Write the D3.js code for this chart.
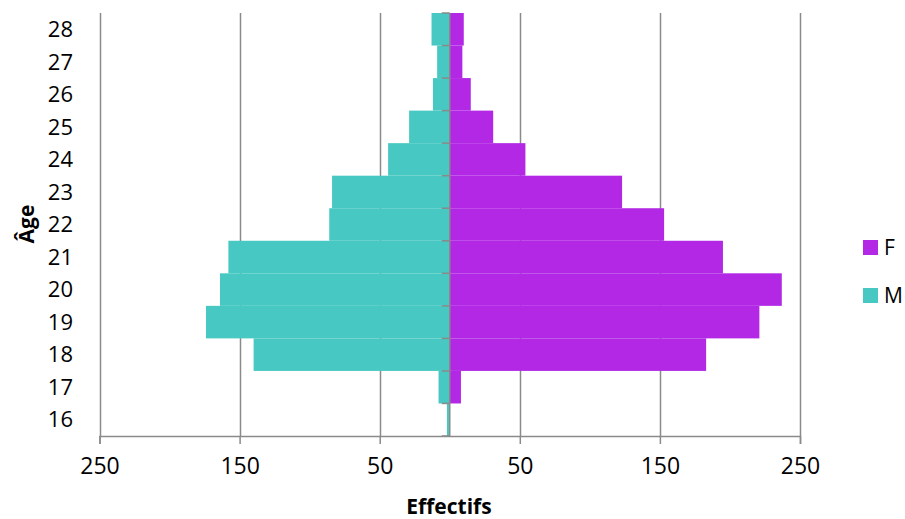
<!DOCTYPE html>
<html>
<head>
<meta charset="utf-8">
<script src="https://cdn.jsdelivr.net/npm/d3@7"></script>
<style>
  html, body { margin: 0; padding: 0; background: #fff; }
  svg { display: block; font-family: "Open Sans", sans-serif; }
</style>
</head>
<body>
<svg id="chart" width="905" height="519"></svg>
<script>
// ---- data ----
const ages = [16, 17, 18, 19, 20, 21, 22, 23, 24, 25, 26, 27, 28];
const femmes = [0, 8, 183, 221, 237, 195, 153, 123, 54, 31, 15, 9, 10];
const hommes = [2, 8, 140, 174, 164, 158, 86, 84, 44, 29, 12, 9, 13];
const xTickValues = [-250, -150, -50, 50, 150, 250];
const seriesNames = ["F", "M"];
const seriesColors = ["#B228E5", "#48C8C2"];

// ---- layout ----
const svg = d3.select("#chart");
const plot = { left: 99.5, right: 800, top: 13, bottom: 436 };
const axisColor = "#8a8a8a";

const x = d3.scaleLinear().domain([-250, 250]).range([plot.left, plot.right]);
const y = d3.scaleBand()
  .domain(ages.slice().reverse())
  .range([plot.top, plot.bottom])
  .padding(0);

// gridlines
svg.append("g")
  .selectAll("line")
  .data(xTickValues)
  .join("line")
  .attr("x1", d => Math.round(x(d)) + 0.5)
  .attr("x2", d => Math.round(x(d)) + 0.5)
  .attr("y1", plot.top)
  .attr("y2", plot.bottom)
  .attr("stroke", axisColor)
  .attr("stroke-width", 1.5);

// bars
const rows = ages.map((a, i) => ({ age: a, F: femmes[i], M: hommes[i] }));
const barG = svg.append("g");
barG.selectAll("rect.m")
  .data(rows)
  .join("rect")
  .attr("class", "m")
  .attr("x", d => x(-d.M))
  .attr("width", d => x(0) - x(-d.M))
  .attr("y", d => y(d.age))
  .attr("height", y.bandwidth())
  .attr("fill", seriesColors[1]);
barG.selectAll("rect.f")
  .data(rows)
  .join("rect")
  .attr("class", "f")
  .attr("x", x(0))
  .attr("width", d => x(d.F) - x(0))
  .attr("y", d => y(d.age))
  .attr("height", y.bandwidth())
  .attr("fill", seriesColors[0]);

// x axis
const xAxis = d3.axisBottom(x)
  .tickValues(xTickValues)
  .tickFormat(d => Math.abs(d))
  .tickSize(8)
  .tickPadding(14);
const xg = svg.append("g")
  .attr("transform", `translate(0,${plot.bottom})`)
  .call(xAxis);
xg.select(".domain").attr("stroke", axisColor).attr("stroke-width", 1.5);
xg.selectAll(".tick line").attr("stroke", axisColor).attr("stroke-width", 1.5);
xg.selectAll(".tick text")
  .attr("fill", "#000")
  .style("font-family", "'Open Sans', sans-serif")
  .style("font-size", "23px");

// central y axis (line + ticks at band boundaries)
const cx = x(0);
svg.append("line")
  .attr("x1", cx).attr("x2", cx)
  .attr("y1", plot.top).attr("y2", plot.bottom)
  .attr("stroke", axisColor).attr("stroke-width", 1.5);
const bounds = ages.map(a => y(a)).concat([plot.bottom]);
svg.append("g")
  .selectAll("line")
  .data(bounds)
  .join("line")
  .attr("x1", cx - 8).attr("x2", cx)
  .attr("y1", d => d).attr("y2", d => d)
  .attr("stroke", axisColor).attr("stroke-width", 1.5);

// y labels on the left
svg.append("g")
  .selectAll("text")
  .data(ages)
  .join("text")
  .attr("x", 73)
  .attr("y", d => y(d) + y.bandwidth() / 2)
  .attr("dy", "0.35em")
  .attr("text-anchor", "end")
  .style("font-size", "22px")
  .attr("fill", "#000")
  .text(d => d);

// axis titles
svg.append("text")
  .attr("x", 449)
  .attr("y", 514)
  .attr("text-anchor", "middle")
  .style("font-size", "21px")
  .style("font-weight", "bold")
  .text("Effectifs");
svg.append("text")
  .attr("transform", "translate(34,224) rotate(-90)")
  .attr("text-anchor", "middle")
  .style("font-size", "21px")
  .style("font-weight", "bold")
  .text("Âge");

// legend
const legend = svg.append("g");
const legY = [240, 288];
seriesNames.forEach((n, i) => {
  legend.append("rect")
    .attr("x", 863).attr("y", legY[i])
    .attr("width", 15).attr("height", 15)
    .attr("fill", seriesColors[i]);
  legend.append("text")
    .attr("x", 884).attr("y", legY[i] + 7.5)
    .attr("dy", "0.35em")
    .style("font-size", "21px")
    .text(n);
});
</script>
</body>
</html>
